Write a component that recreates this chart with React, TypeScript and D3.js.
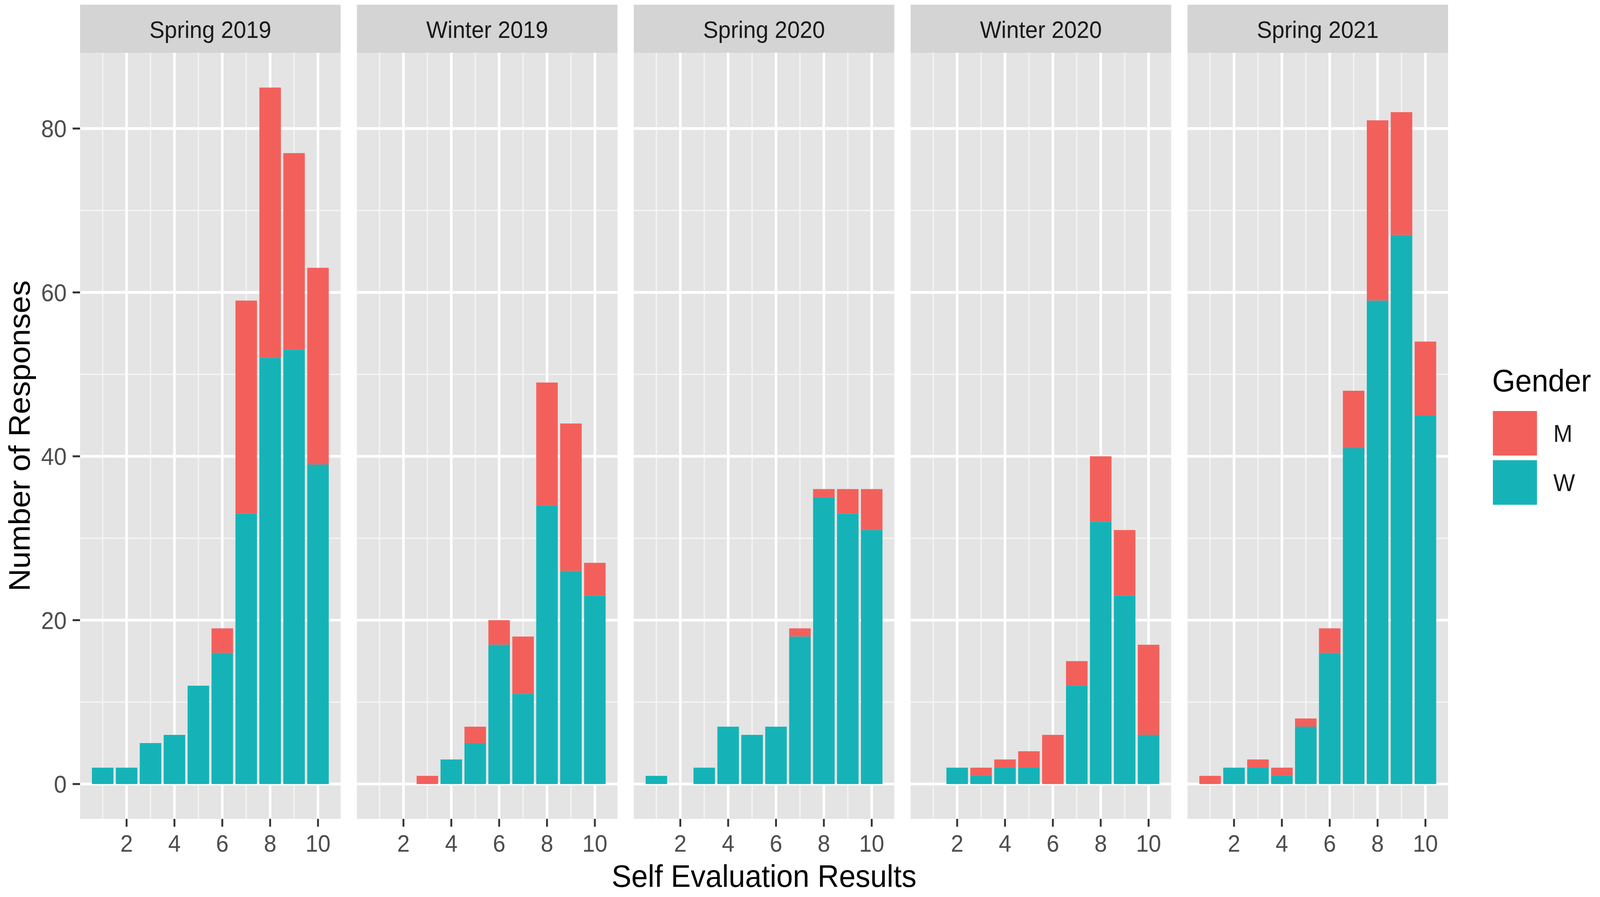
import React from "react";
import * as d3 from "d3";

// data
const terms = ["Spring 2019", "Winter 2019", "Spring 2020", "Winter 2020", "Spring 2021"];
const scores = [1, 2, 3, 4, 5, 6, 7, 8, 9, 10];
const genders = ["M", "W"];

// women per score, one row per term
const women = [
  [2, 2, 5, 6, 12, 16, 33, 52, 53, 39],
  [0, 0, 0, 3, 5, 17, 11, 34, 26, 23],
  [1, 0, 2, 7, 6, 7, 18, 35, 33, 31],
  [0, 2, 1, 2, 2, 0, 12, 32, 23, 6],
  [0, 2, 2, 1, 7, 16, 41, 59, 67, 45],
];
// men per score, stacked on top of the women
const men = [
  [0, 0, 0, 0, 0, 3, 26, 33, 24, 24],
  [0, 0, 1, 0, 2, 3, 7, 15, 18, 4],
  [0, 0, 0, 0, 0, 0, 1, 1, 3, 5],
  [0, 0, 1, 1, 2, 6, 3, 8, 8, 11],
  [1, 0, 1, 1, 1, 3, 7, 22, 15, 9],
];

const xTicks = [2, 4, 6, 8, 10];
const xMinor = [1, 3, 5, 7, 9];
const yTicks = [0, 20, 40, 60, 80];
const yMinor = [10, 30, 50, 70];

const W = 4317;
const H = 2296;
const panelLeft = 216;
const panelW = 703;
const panelGap = 44;
const stripTop = 12;
const panelTop = 135;
const panelBottom = 2096;

const colors: Record<string, string> = { M: "#F3605B", W: "#15B3B7" };
const font = "'Liberation Sans', Arial, sans-serif";

const Panel = ({ i }: { i: number }) => {
  const x0 = panelLeft + i * (panelW + panelGap);
  const x = d3.scaleLinear().domain([0.055, 10.945]).range([x0, x0 + panelW]);
  const y = d3.scaleLinear().domain([-4.25, 89.25]).range([panelBottom, panelTop]);
  const bw = x(0.9) - x(0);

  const stacked = d3
    .stack<number>()
    .keys(genders)
    .value((idx, key) => (key === "W" ? women[i][idx] : men[i][idx]))
    .order(d3.stackOrderReverse)(scores.map((_, k) => k));

  return (
    <g>
      <rect x={x0} y={stripTop} width={panelW} height={panelTop - stripTop} fill="#D4D4D4" />
      <text
        x={x0 + panelW / 2}
        y={97}
        textAnchor="middle"
        fontSize={61}
        fill="#1A1A1A"
        fontFamily={font}
      >
        {terms[i]}
      </text>
      <rect x={x0} y={panelTop} width={panelW} height={panelBottom - panelTop} fill="#E4E4E4" />
      {yMinor.map((v) => (
        <line key={"ym" + v} x1={x0} x2={x0 + panelW} y1={y(v)} y2={y(v)} stroke="#F4F4F4" strokeWidth={3.5} />
      ))}
      {xMinor.map((v) => (
        <line key={"xm" + v} x1={x(v)} x2={x(v)} y1={panelTop} y2={panelBottom} stroke="#F4F4F4" strokeWidth={3.5} />
      ))}
      {yTicks.map((v) => (
        <line key={"y" + v} x1={x0} x2={x0 + panelW} y1={y(v)} y2={y(v)} stroke="#FFFFFF" strokeWidth={7} />
      ))}
      {xTicks.map((v) => (
        <line key={"x" + v} x1={x(v)} x2={x(v)} y1={panelTop} y2={panelBottom} stroke="#FFFFFF" strokeWidth={7} />
      ))}
      {stacked.map((layer) =>
        layer.map((d, k) =>
          d[1] - d[0] > 0 ? (
            <rect
              key={layer.key + k}
              x={x(scores[k]) - bw / 2}
              y={y(d[1])}
              width={bw}
              height={y(d[0]) - y(d[1])}
              fill={colors[layer.key]}
            />
          ) : null
        )
      )}
      {xTicks.map((v) => (
        <g key={"xt" + v}>
          <line x1={x(v)} x2={x(v)} y1={panelBottom} y2={panelBottom + 20} stroke="#333333" strokeWidth={5} />
          <text
            x={x(v)}
            y={2180}
            textAnchor="middle"
            fontSize={61}
            fill="#4D4D4D"
            fontFamily={font}
          >
            {v}
          </text>
        </g>
      ))}
      {i === 0 &&
        yTicks.map((v) => (
          <g key={"yt" + v}>
            <line x1={x0 - 20} x2={x0} y1={y(v)} y2={y(v)} stroke="#333333" strokeWidth={5} />
            <text
              x={x0 - 36}
              y={y(v)}
              dy="0.36em"
              textAnchor="end"
              fontSize={62}
              fill="#4D4D4D"
              fontFamily={font}
            >
              {v}
            </text>
          </g>
        ))}
    </g>
  );
};

export default function App() {
  return (
    <div style={{ position: "fixed", left: 0, top: 0, width: "100vw", height: "100vh" }}>
      <svg
        width="100%"
        height="100%"
        viewBox={`0 0 ${W} ${H}`}
        preserveAspectRatio="none"
        style={{ display: "block", background: "#FFFFFF" }}
      >
        {terms.map((_, i) => (
          <Panel key={i} i={i} />
        ))}
        <text
          transform={`translate(80,${(panelTop + panelBottom) / 2}) rotate(-90)`}
          textAnchor="middle"
          fontSize={80}
          fill="#000000"
          fontFamily={font}
        >
          Number of Responses
        </text>
        <text
          x={(panelLeft + panelLeft + 5 * panelW + 4 * panelGap) / 2}
          y={2270}
          textAnchor="middle"
          fontSize={80}
          fill="#000000"
          fontFamily={font}
        >
          Self Evaluation Results
        </text>
        <g>
          <text x={4026} y={1002} fontSize={80} fill="#000000" fontFamily={font}>
            Gender
          </text>
          {genders.map((g, k) => (
            <g key={g}>
              <rect x={4028} y={1052 + k * 126} width={119} height={114} fill={colors[g]} />
              <text
                x={4191}
                y={1052 + k * 126 + 57}
                dy="0.36em"
                fontSize={62}
                fill="#1A1A1A"
                fontFamily={font}
              >
                {g}
              </text>
            </g>
          ))}
        </g>
      </svg>
    </div>
  );
}
